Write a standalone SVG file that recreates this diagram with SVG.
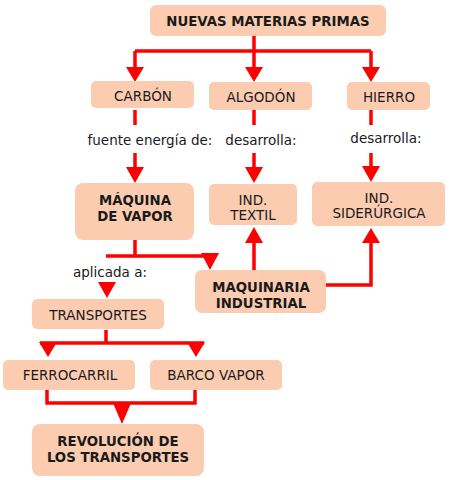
<svg xmlns="http://www.w3.org/2000/svg" width="451" height="480" viewBox="0 0 451 480">
<style>
.box{fill:#FCCCB1;}
.t{font-family:"DejaVu Sans",Verdana,sans-serif;font-size:13.5px;fill:#1a1a1a;text-anchor:middle;}
.b{font-weight:bold;font-size:13.3px;}
.lbl{font-family:"DejaVu Sans",Verdana,sans-serif;font-size:13.5px;fill:#1a1a1a;text-anchor:middle;}
.ln{stroke:#FF0000;stroke-width:3.5;fill:none;}
.ah{fill:#FF0000;}
</style>
<rect width="451" height="480" fill="#ffffff"/>
<g id="connectors">
<path class="ln" d="M254,36 V51 M135,51 H371 M135,51 V68 M254,51 V68 M371,51 V68"/>
<polygon class="ah" points="126,67 144,67 135,82"/>
<polygon class="ah" points="245,67 263,67 254,82"/>
<polygon class="ah" points="362,67 380,67 371,82"/>
<path class="ln" d="M135,110 V125 M135,153 V168 M254,110 V125 M254,153 V168 M371,110 V125 M371,153 V168"/>
<polygon class="ah" points="126,167 144,167 135,183"/>
<polygon class="ah" points="245,167 263,167 254,183"/>
<polygon class="ah" points="362,166 380,166 371,182"/>
<path class="ln" d="M135,240 V256 M106,256 H210"/>
<polygon class="ah" points="201,253 219,253 210,270"/>
<polygon class="ah" points="98,282 116,282 107,298"/>
<path class="ln" d="M254,270 V243 M326,285 H371 V243"/>
<polygon class="ah" points="245,243 263,243 254,227"/>
<polygon class="ah" points="362,243 380,243 371,228"/>
<path class="ln" d="M106,330 V343 M40,343 H204"/>
<polygon class="ah" points="39,342 57,342 48,357"/>
<polygon class="ah" points="187,342 205,342 196,357"/>
<path class="ln" d="M47,390 V403 H195 V390"/>
<polygon class="ah" points="113,403 131,403 122,424"/>
</g>
<g id="n-nuevas"><rect class="box" x="150" y="5" width="236" height="31" rx="6"/><text class="t b" x="268" y="26">NUEVAS MATERIAS PRIMAS</text></g>
<g id="n-carbon"><rect class="box" x="91" y="81" width="103" height="27" rx="5"/><text class="t" x="143" y="100.5">CARBÓN</text></g>
<g id="n-algodon"><rect class="box" x="209" y="82" width="103" height="28" rx="5"/><text class="t" x="261" y="101.5">ALGODÓN</text></g>
<g id="n-hierro"><rect class="box" x="347" y="82" width="83" height="28" rx="5"/><text class="t" x="389" y="101.5">HIERRO</text></g>
<text class="lbl" x="150" y="145">fuente energía de:</text>
<text class="lbl" x="261" y="145">desarrolla:</text>
<text class="lbl" x="386" y="143">desarrolla:</text>
<g id="n-maquina"><rect class="box" x="75" y="183" width="119" height="57" rx="8"/><text class="t b" x="135" y="205">MÁQUINA</text><text class="t b" x="135" y="221">DE VAPOR</text></g>
<g id="n-textil"><rect class="box" x="209" y="184" width="88" height="41" rx="5"/><text class="t" x="253" y="205">IND.</text><text class="t" x="253" y="220">TEXTIL</text></g>
<g id="n-siderurgica"><rect class="box" x="312" y="182" width="133" height="44" rx="5"/><text class="t" x="379" y="203">IND.</text><text class="t" x="379" y="218">SIDERÚRGICA</text></g>
<text class="lbl" x="110" y="277">aplicada a:</text>
<g id="n-maquinaria"><rect class="box" x="195" y="270" width="131" height="43" rx="7"/><text class="t b" x="261" y="292">MAQUINARIA</text><text class="t b" x="261" y="308">INDUSTRIAL</text></g>
<g id="n-transportes"><rect class="box" x="32" y="299" width="132" height="30" rx="5"/><text class="t" x="98" y="319.5">TRANSPORTES</text></g>
<g id="n-ferrocarril"><rect class="box" x="3" y="360" width="132" height="30" rx="5"/><text class="t" x="70" y="380">FERROCARRIL</text></g>
<g id="n-barco"><rect class="box" x="150" y="360" width="132" height="30" rx="5"/><text class="t" x="216" y="380">BARCO VAPOR</text></g>
<g id="n-revolucion"><rect class="box" x="32" y="424" width="172" height="52" rx="8"/><text class="t b" x="118" y="446">REVOLUCIÓN DE</text><text class="t b" x="118" y="462">LOS TRANSPORTES</text></g>
</svg>
